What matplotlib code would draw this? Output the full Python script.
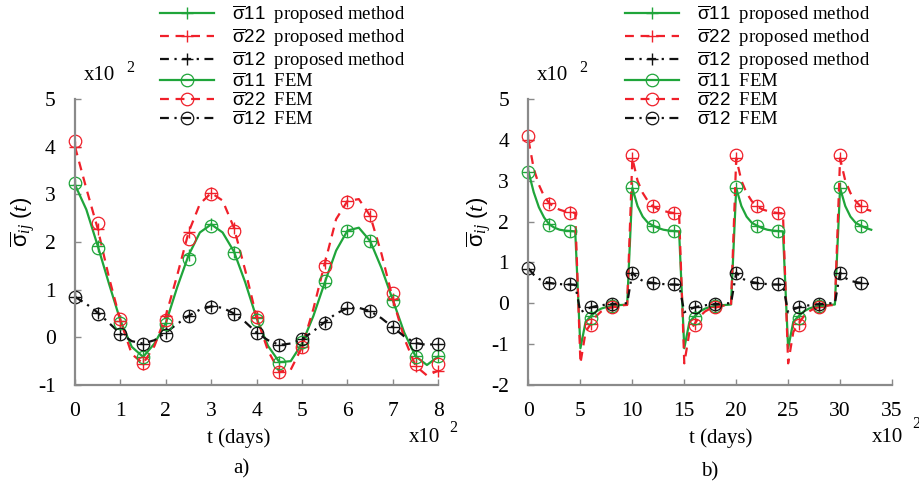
import matplotlib
matplotlib.use('Agg')
import matplotlib.pyplot as plt
from matplotlib.lines import Line2D

plt.rcParams['font.family'] = ['Liberation Serif', 'DejaVu Serif']
plt.rcParams['mathtext.fontset'] = 'custom'
plt.rcParams['mathtext.rm'] = 'Liberation Sans'
plt.rcParams['mathtext.sf'] = 'Liberation Sans'
plt.rcParams['mathtext.it'] = 'Liberation Serif:italic'
plt.rcParams['axes.unicode_minus'] = False

# ---- panel a) : time in 100 days ----
t_a = [0, 0.25, 0.5, 0.75, 1, 1.25, 1.5, 1.75, 2, 2.25, 2.5, 2.75, 3, 3.25, 3.5, 3.75,
       4, 4.25, 4.5, 4.75, 5, 5.25, 5.5, 5.75, 6, 6.25, 6.5, 6.75, 7, 7.25, 7.5, 7.75, 8]
s11_a = [3.2, 2.68, 1.92, 1.12, 0.35, -0.2, -0.41, -0.13, 0.3, 1.05, 1.72, 2.2, 2.37, 2.2,
         1.8, 1.15, 0.4, -0.18, -0.52, -0.5, -0.13, 0.45, 1.15, 1.82, 2.24, 2.3, 2.02, 1.45,
         0.78, 0.1, -0.4, -0.58, -0.4]
s22_a = [4.0, 3.12, 2.28, 1.25, 0.35, -0.35, -0.55, -0.18, 0.45, 1.3, 2.2, 2.8, 3.03, 2.87,
         2.3, 1.4, 0.42, -0.28, -0.72, -0.68, -0.2, 0.6, 1.55, 2.48, 2.86, 2.9, 2.55, 1.75,
         0.8, -0.02, -0.6, -0.8, -0.7]
s12_a = [0.85, 0.7, 0.52, 0.3, 0.08, -0.08, -0.13, -0.06, 0.1, 0.28, 0.45, 0.58, 0.65, 0.62,
         0.5, 0.32, 0.1, -0.06, -0.16, -0.13, -0.04, 0.13, 0.32, 0.5, 0.61, 0.62, 0.55, 0.4,
         0.21, 0.02, -0.12, -0.16, -0.13]

t_fem_a = [0, 0.5, 1, 1.5, 2, 2.5, 3, 3.5, 4, 4.5, 5, 5.5, 6, 6.5, 7, 7.5, 8]
fem11_a = [3.23, 1.88, 0.3, -0.42, 0.27, 1.64, 2.34, 1.76, 0.36, -0.53, -0.09, 1.18, 2.23,
           2.02, 0.77, -0.41, -0.39]
fem22_a = [4.12, 2.39, 0.38, -0.53, 0.36, 2.06, 3.01, 2.24, 0.43, -0.72, -0.2, 1.5, 2.83,
           2.57, 0.94, -0.56, -0.55]
fem12_a = [0.84, 0.5, 0.07, -0.13, 0.05, 0.45, 0.64, 0.48, 0.1, -0.17, -0.04, 0.31, 0.61,
           0.56, 0.21, -0.13, -0.14]

# ---- panel b) ----
t_b = [0, 0.5, 1, 1.5, 2, 2.5, 3, 3.5, 4, 4.5, 5, 5.5, 6, 6.5, 7, 7.5, 8, 8.5, 9, 9.5,
       10, 10.5, 11, 11.5, 12, 12.5, 13, 13.5, 14, 14.5, 15, 15.5, 16, 16.5, 17, 17.5,
       18, 18.5, 19, 19.5, 20, 20.5, 21, 21.5, 22, 22.5, 23, 23.5, 24, 24.5, 25, 25.5,
       26, 26.5, 27, 27.5, 28, 28.5, 29, 29.5, 30, 30.5, 31, 31.5, 32, 32.5, 33]
s11_b = [3.22, 2.72, 2.35, 2.1, 1.93, 1.85, 1.8, 1.78, 1.77, 1.76,
         -1.1, -0.45, -0.32, -0.2, -0.13, -0.09, -0.07, -0.05, -0.04, -0.03,
         2.82, 2.38, 2.12, 1.97, 1.9, 1.84, 1.8, 1.78, 1.77, 1.76,
         -1.1, -0.45, -0.32, -0.2, -0.13, -0.09, -0.07, -0.05, -0.04, -0.03,
         2.82, 2.38, 2.12, 1.97, 1.9, 1.84, 1.8, 1.78, 1.77, 1.76,
         -1.1, -0.45, -0.32, -0.2, -0.13, -0.09, -0.07, -0.05, -0.04, -0.03,
         2.82, 2.38, 2.12, 1.97, 1.9, 1.84, 1.8]
s22_b = [4.0, 3.3, 2.9, 2.62, 2.45, 2.35, 2.29, 2.25, 2.23, 2.21,
         -1.47, -0.7, -0.5, -0.32, -0.2, -0.13, -0.1, -0.07, -0.05, -0.04,
         3.55, 3.0, 2.7, 2.5, 2.37, 2.3, 2.26, 2.23, 2.21, 2.2,
         -1.47, -0.7, -0.5, -0.32, -0.2, -0.13, -0.1, -0.07, -0.05, -0.04,
         3.55, 3.0, 2.7, 2.5, 2.37, 2.3, 2.26, 2.23, 2.21, 2.2,
         -1.47, -0.7, -0.5, -0.32, -0.2, -0.13, -0.1, -0.07, -0.05, -0.04,
         3.55, 3.0, 2.7, 2.5, 2.37, 2.3, 2.26]
s12_b = [0.85, 0.7, 0.6, 0.53, 0.5, 0.48, 0.47, 0.46, 0.46, 0.45,
         -0.22, -0.15, -0.1, -0.07, -0.05, -0.03, -0.02, -0.01, 0.0, 0.0,
         0.75, 0.62, 0.55, 0.52, 0.5, 0.48, 0.47, 0.46, 0.46, 0.45,
         -0.22, -0.15, -0.1, -0.07, -0.05, -0.03, -0.02, -0.01, 0.0, 0.0,
         0.75, 0.62, 0.55, 0.52, 0.5, 0.48, 0.47, 0.46, 0.46, 0.45,
         -0.22, -0.15, -0.1, -0.07, -0.05, -0.03, -0.02, -0.01, 0.0, 0.0,
         0.75, 0.62, 0.55, 0.52, 0.5, 0.48, 0.47]

t_fem_b = [0, 2, 4, 6, 8, 10, 12, 14, 16, 18, 20, 22, 24, 26, 28, 30, 32]
fem11_b = [3.22, 1.92, 1.78, -0.36, -0.06, 2.84, 1.9, 1.78, -0.36, -0.06, 2.84, 1.9, 1.78,
           -0.36, -0.06, 2.84, 1.9]
fem22_b = [4.1, 2.42, 2.22, -0.52, -0.08, 3.62, 2.37, 2.2, -0.52, -0.08, 3.62, 2.37, 2.2,
           -0.52, -0.08, 3.62, 2.37]
fem12_b = [0.86, 0.5, 0.47, -0.1, -0.02, 0.75, 0.5, 0.47, -0.1, -0.02, 0.75, 0.5, 0.47,
           -0.1, -0.02, 0.75, 0.5]

GREEN = '#1fa53a'
RED = '#f0202a'
BLACK = '#111111'
GRAY = '#8a8a8a'

styles = {
  'g': dict(color=GREEN, linestyle='-'),
  'r': dict(color=RED, linestyle=(0, (4, 3))),
  'k': dict(color=BLACK, linestyle=(0, (4, 2.5, 1, 2.5))),
}

W, H = 920, 484
fig = plt.figure(figsize=(W / 100, H / 100), dpi=100)

def ftext(x, y, s, **kw):
  fig.text(x / W, 1 - y / H, s, **kw)

def label(code, what):
  return r'$\overline{\mathrm{\sigma}}\mathrm{' + code + '}$  ' + what

def panel(rect, t, s11, s22, s12, tf, f11, f22, f12, every, xlim, xticks, ylim):
  ax = fig.add_axes(rect)
  for y, st in ((s11, 'g'), (s22, 'r'), (s12, 'k')):
    ax.plot(t, y, lw=1.6, marker='+', ms=9, mew=1.0, markevery=every,
            clip_on=False, **styles[st])
  for y, st in ((f11, 'g'), (f22, 'r'), (f12, 'k')):
    ax.plot(tf, y, linestyle='none', marker='o', ms=9, mfc='none', mew=0.9,
            color=styles[st]['color'], clip_on=False)
  ax.set_xlim(*xlim)
  ax.set_ylim(*ylim)
  ax.set_xticks(xticks)
  ax.set_yticks(range(ylim[0], ylim[1] + 1))
  for sp in ('top', 'right'):
    ax.spines[sp].set_visible(False)
  for sp in ('left', 'bottom'):
    ax.spines[sp].set_color(GRAY)
    ax.spines[sp].set_linewidth(1.6)
  ax.tick_params(direction='in', length=4, width=1, color=GRAY, labelsize=15.5)
  ax.tick_params(axis='x', pad=12)
  ax.tick_params(axis='y', pad=14)
  ax.set_ylabel(r'$\overline{\mathrm{\sigma}}_{ij}\ (t)$', fontsize=16)
  ax.set_xlabel('t (days)', fontsize=15, va='top')
  return ax

ax1 = panel([75 / W, 99 / H, 363.3 / W, 286 / H], t_a, s11_a, s22_a, s12_a,
            t_fem_a, fem11_a, fem22_a, fem12_a, 2, (0, 8), range(0, 9), (-1, 5))
ax2 = panel([528.5 / W, 99 / H, 363.5 / W, 286 / H], t_b, s11_b, s22_b, s12_b,
            t_fem_b, fem11_b, fem22_b, fem12_b, 4, (0, 35), range(0, 36, 5), (-2, 5))

ax1.yaxis.set_label_coords(-0.105, 0.57)
ax2.yaxis.set_label_coords(-0.098, 0.57)
ax1.xaxis.set_label_coords(0.45, -0.15)
ax2.xaxis.set_label_coords(0.53, -0.15)

handles = [
  Line2D([], [], lw=1.6, marker='+', ms=9, mew=1.0, **styles['g']),
  Line2D([], [], lw=1.6, marker='+', ms=9, mew=1.0, **styles['r']),
  Line2D([], [], lw=1.6, marker='+', ms=9, mew=1.0, **styles['k']),
  Line2D([], [], lw=1.6, marker='o', ms=9, mew=0.9, mfc='none', **styles['g']),
  Line2D([], [], lw=1.6, marker='o', ms=9, mew=0.9, mfc='none', **styles['r']),
  Line2D([], [], lw=1.6, marker='o', ms=9, mew=0.9, mfc='none', **styles['k']),
]
labels = [label('11', 'proposed method'), label('22', 'proposed method'),
          label('12', 'proposed method'), label('11', 'FEM'), label('22', 'FEM'),
          label('12', 'FEM')]

for ax, x0 in ((ax1, 160), (ax2, 625)):
  ax.legend(handles, labels, loc='upper left', bbox_to_anchor=(x0 / W, 1 - 3 / H),
            bbox_transform=fig.transFigure, frameon=False, fontsize=13.5,
            handlelength=2.9, handletextpad=0.95, labelspacing=0.02,
            borderpad=0, borderaxespad=0)

# multiplier labels
for x in (84, 537):
  ftext(x, 75, 'x10', fontsize=15, va='center')
  ftext(x + 42, 68, '2', fontsize=11.5, va='center')
ftext(409, 438, 'x10', fontsize=15, va='center')
ftext(449, 428, '2', fontsize=11.5, va='center')
ftext(872, 438, 'x10', fontsize=15, va='center')
ftext(912, 424, '2', fontsize=11.5, va='center')

ftext(241, 469, 'a)', fontsize=15, ha='center', va='center')
ftext(710, 472, 'b)', fontsize=15, ha='center', va='center')

fig.savefig('out.png', dpi=100)
